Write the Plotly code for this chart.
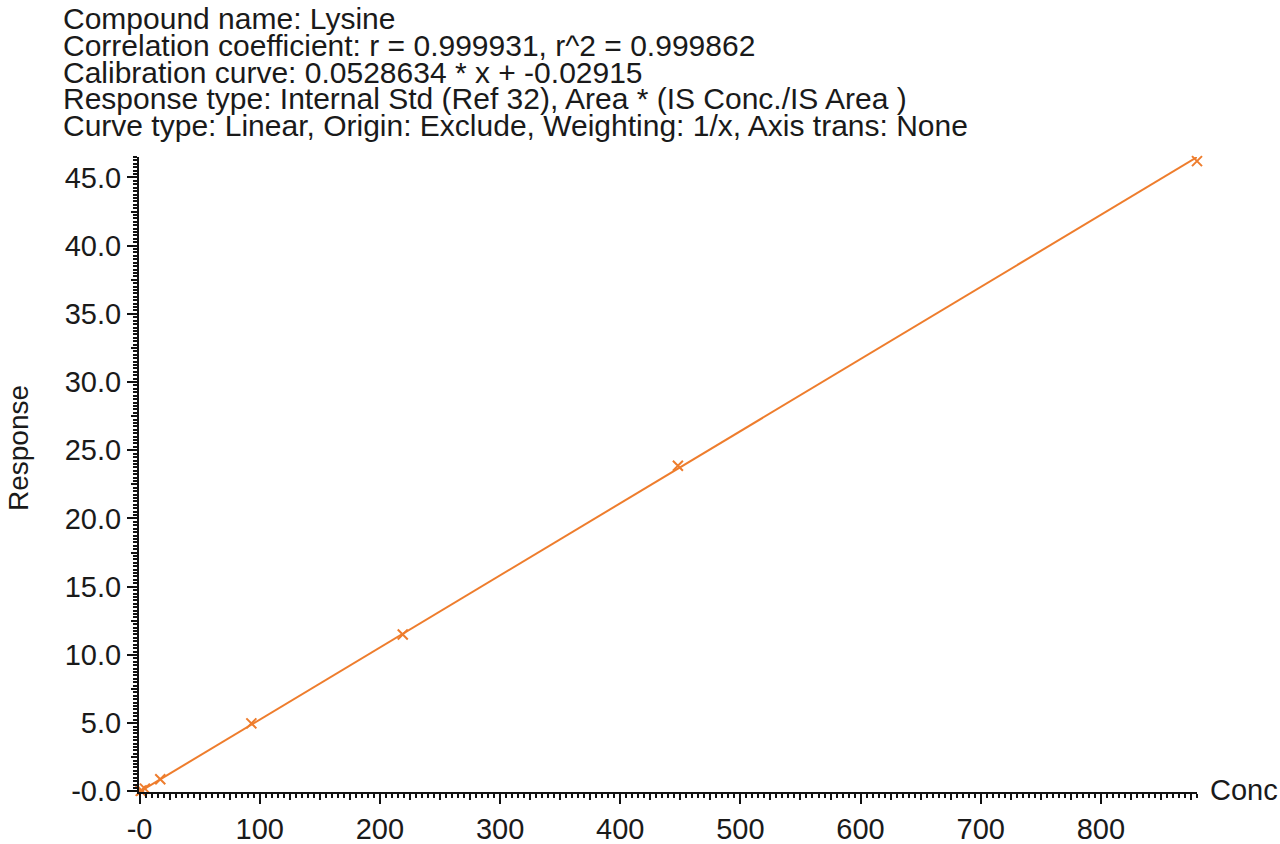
import plotly.graph_objects as go

# ---- data ----
conc = [0.9, 1.8, 4.4, 17.2, 93.0, 219.0, 448.0, 880.0]
response = [0.03, 0.07, 0.2, 0.88, 4.98, 11.49, 23.87, 46.2]
slope = 0.0528634
intercept = -0.02915
header_lines = [
    "Compound name: Lysine",
    "Correlation coefficient: r = 0.999931, r^2 = 0.999862",
    "Calibration curve: 0.0528634 * x + -0.02915",
    "Response type: Internal Std (Ref 32), Area * (IS Conc./IS Area )",
    "Curve type: Linear, Origin: Exclude, Weighting: 1/x, Axis trans: None",
]
x_tickvals = [0, 100, 200, 300, 400, 500, 600, 700, 800]
x_ticktext = ["-0", "100", "200", "300", "400", "500", "600", "700", "800"]
y_tickvals = [0, 5, 10, 15, 20, 25, 30, 35, 40, 45]
y_ticktext = ["-0.0", "5.0", "10.0", "15.0", "20.0", "25.0", "30.0", "35.0", "40.0", "45.0"]

# ---- layout geometry ----
W, H = 1280, 844
L, R, T, B = 139, 83, 157, 52
X_RANGE = [-0.5, 880]
Y_RANGE = [-0.05, 46.5]
ORANGE = "#EE7D2D"
FONT = "Liberation Sans, Arial, sans-serif"
FS = 29
HFS = 30

def px_to_paper_y(py):
    return (H - B - py) / (H - B - T)

def px_to_paper_x(px):
    return (px - L) / (W - L - R)

fit_x = [min(conc), max(conc)]
fit_y = [slope * v + intercept for v in fit_x]

fig = go.Figure()
fig.add_trace(go.Scatter(x=fit_x, y=fit_y, mode="lines", cliponaxis=False,
                         line=dict(color=ORANGE, width=2), hoverinfo="skip",
                         showlegend=False))
fig.add_trace(go.Scatter(x=conc, y=response, mode="markers", cliponaxis=False,
                         marker=dict(symbol="x-thin", size=10, color=ORANGE,
                                     line=dict(color=ORANGE, width=2)),
                         showlegend=False))
# invisible trace to activate the overlay axes for extra tick levels
fig.add_trace(go.Scatter(x=[conc[0]], y=[response[0]], xaxis="x2", yaxis="y2",
                         mode="markers", marker=dict(opacity=0), showlegend=False,
                         hoverinfo="skip"))

fig.update_layout(
    width=W, height=H,
    margin=dict(l=L, r=R, t=T, b=B, autoexpand=False),
    paper_bgcolor="white", plot_bgcolor="white",
    showlegend=False,
    font=dict(family=FONT, size=FS, color="#1a1a1a"),
    xaxis=dict(range=X_RANGE, showgrid=False, zeroline=False, automargin=False,
               showline=True, linecolor="#111", linewidth=2,
               ticks="outside", ticklen=10, tickwidth=2, tickcolor="#111",
               tickvals=x_tickvals, ticktext=x_ticktext,
               tickfont=dict(size=FS, family=FONT, color="#1a1a1a"),
               minor=dict(ticks="outside", dtick=5, tick0=0, ticklen=4,
                          tickwidth=1.5, tickcolor="#111", showgrid=False)),
    yaxis=dict(range=Y_RANGE, showgrid=False, zeroline=False, automargin=False,
               showline=True, linecolor="#111", linewidth=2,
               ticks="outside", ticklen=10, tickwidth=2, tickcolor="#111",
               tickvals=y_tickvals, ticktext=y_ticktext,
               tickfont=dict(size=FS, family=FONT, color="#1a1a1a"),
               minor=dict(ticks="outside", dtick=0.25, tick0=0, ticklen=4,
                          tickwidth=1.5, tickcolor="#111", showgrid=False)),
    xaxis2=dict(range=X_RANGE, overlaying="x", anchor="y", side="bottom",
                showgrid=False, zeroline=False, showline=False, automargin=False,
                ticks="outside", ticklen=7, tickwidth=1.5, tickcolor="#111",
                tickmode="linear", tick0=0, dtick=25, showticklabels=False),
    yaxis2=dict(range=Y_RANGE, overlaying="y", anchor="x", side="left",
                showgrid=False, zeroline=False, showline=False, automargin=False,
                ticks="outside", ticklen=7, tickwidth=1.5, tickcolor="#111",
                tickmode="linear", tick0=0, dtick=2.5, showticklabels=False),
)

line_centers = [18, 45, 72, 98, 125]
for txt, cy in zip(header_lines, line_centers):
    fig.add_annotation(text=txt, xref="paper", yref="paper",
                       x=px_to_paper_x(61), y=px_to_paper_y(cy),
                       xanchor="left", yanchor="middle", showarrow=False,
                       font=dict(size=HFS, family=FONT, color="#1a1a1a"))

fig.add_annotation(text="Response", xref="paper", yref="paper",
                   x=px_to_paper_x(18), y=px_to_paper_y(448), textangle=-90,
                   xanchor="center", yanchor="middle", showarrow=False,
                   font=dict(size=28, family=FONT, color="#1a1a1a"))
fig.add_annotation(text="Conc", xref="paper", yref="paper",
                   x=px_to_paper_x(1208), y=px_to_paper_y(790),
                   xanchor="left", yanchor="middle", showarrow=False,
                   font=dict(size=FS, family=FONT, color="#1a1a1a"))

fig.write_html("out.html", config={"displayModeBar": False},
               post_script="document.body.style.margin='0';document.body.style.padding='0';")
